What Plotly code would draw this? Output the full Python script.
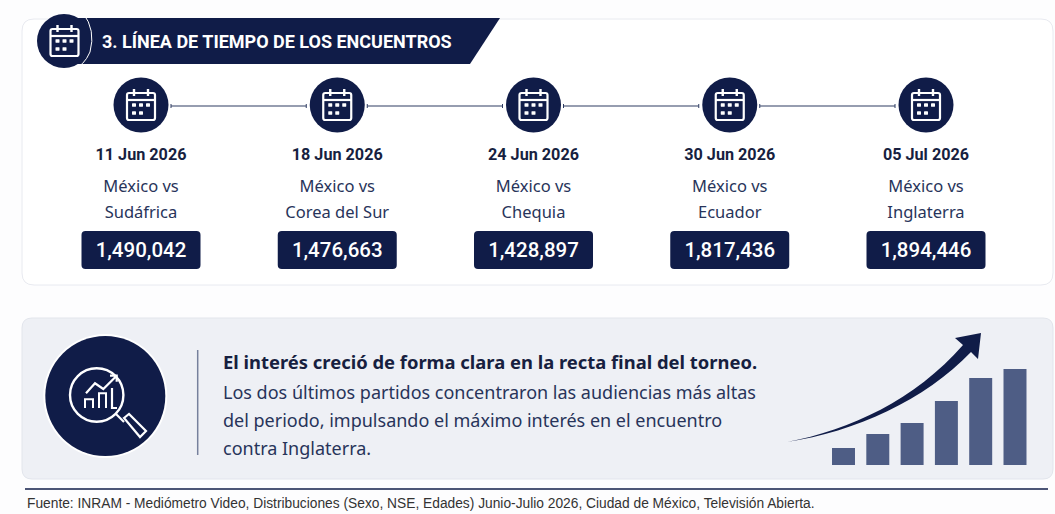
#!/usr/bin/env python
import plotly.graph_objects as go

NAVY = "#101c48"
TEXT_DARK = "#171f40"
TEXT_BLUE = "#28345a"

# timeline data
dates = ["11 Jun 2026", "18 Jun 2026", "24 Jun 2026", "30 Jun 2026", "05 Jul 2026"]
rivals_top = ["México vs"] * 5
rivals_bottom = ["Sudáfrica", "Corea del Sur", "Chequia", "Ecuador", "Inglaterra"]
audiences = [1490042, 1476663, 1428897, 1817436, 1894446]

# little decorative bars, heights
mini_labels = ["a", "b", "c", "d", "e", "f"]
mini_heights = [17, 31, 42, 64, 87, 96]

title_text = "3. LÍNEA DE TIEMPO DE LOS ENCUENTROS"
head_text = "El interés creció de forma clara en la recta final del torneo."
body_lines = [
    "Los dos últimos partidos concentraron las audiencias más altas",
    "del periodo, impulsando el máximo interés en el encuentro",
    "contra Inglaterra.",
]
source_text = ("Fuente: INRAM - Mediómetro Video, Distribuciones (Sexo, NSE, Edades) "
               "Junio-Julio 2026, Ciudad de México, Televisión Abierta.")

W, H = 1055, 514
FIRST_NODE, NODE_STEP = 141, 196.25
NODE_Y = 105


def rrect(x0, y0, x1, y1, r):
    return (f"M{x0+r},{y0} L{x1-r},{y0} Q{x1},{y0} {x1},{y0+r} L{x1},{y1-r} Q{x1},{y1} {x1-r},{y1} "
            f"L{x0+r},{y1} Q{x0},{y1} {x0},{y1-r} L{x0},{y0+r} Q{x0},{y0} {x0+r},{y0} Z")


def shape(path, fill="rgba(0,0,0,0)", line="rgba(0,0,0,0)", width=0):
    return dict(type="path", xref="x", yref="y", path=path, fillcolor=fill,
                line=dict(color=line, width=width), layer="below")


def circle(cx, cy, r, fill="rgba(0,0,0,0)", line="rgba(0,0,0,0)", width=0):
    return dict(type="circle", xref="x", yref="y", x0=cx-r, x1=cx+r, y0=cy-r, y1=cy+r,
                fillcolor=fill, line=dict(color=line, width=width), layer="below")


def calendar(cx, cy):
    out = [shape(rrect(cx-14, cy-12, cx+14, cy+15, 2), line="white", width=2.2),
           shape(f"M{cx-14},{cy-5} L{cx+14},{cy-5}", line="white", width=2.2),
           shape(f"M{cx-7},{cy-16} L{cx-7},{cy-9} M{cx+7},{cy-16} L{cx+7},{cy-9}", line="white", width=2.4)]
    for dx, dy in [(-7, 0), (0, 0), (7, 0), (-7, 8), (0, 8)]:
        out.append(shape(rrect(cx+dx-2, cy+dy-1.7, cx+dx+2, cy+dy+1.7, 0.4), fill="white"))
    return out


shapes = [
    shape(rrect(22, 19, 1053, 285, 12), fill="white", line="#e8eaf0", width=1),
    shape(rrect(22, 318, 1053, 479, 10), fill="#eef0f5", line="#e2e5ec", width=1),
    # header banner
    shape("M60,18 L500,18 L470,64 L60,64 Z", fill=NAVY),
    circle(64, 41, 27, fill=NAVY),
    shape("M83,13 Q96,30 90,52 Q84,66 72,70", line="white", width=1),
]
shapes += calendar(64.5, 41)

# nodes and connectors of the timeline
for i in range(len(dates)):
    cx = FIRST_NODE + i * NODE_STEP
    shapes.append(circle(cx, NODE_Y, 27.5, fill=NAVY))
    shapes += calendar(cx, NODE_Y)
    if i < len(dates) - 1:
        x0, x1 = cx + 30, cx + NODE_STEP - 31
        shapes.append(shape(f"M{x0},{NODE_Y+1} L{x1},{NODE_Y+1}", line="#2f3d63", width=1.2))
        shapes.append(shape(f"M{x0},{NODE_Y-1} L{x0},{NODE_Y+3} M{x1},{NODE_Y-1} L{x1},{NODE_Y+3}",
                            line="#2f3d63", width=1))
    shapes.append(shape(rrect(cx-59.5, 231, cx+59.5, 269, 4), fill=NAVY))

# magnifier
shapes += [
    circle(105.3, 396, 62, fill="white"),
    circle(105.3, 396, 60, fill=NAVY),
    circle(96.7, 395, 26.7, line="white", width=2.4),
    shape("M116,414 L124,422", line="white", width=2.2),
    shape("M124,418 L129,414 L146,431 L140,437 Z", line="white", width=2.2),
    shape("M86,393.3 L95,383.3 L103.3,389 L116.7,375.7 M110,375.7 L116.7,375.7 L116.7,381.7", line="white", width=2.2),
    shape("M85,408 L85,399.3 L93,399.3 L93,408 M99,408 L99,393.3 L106,393.3 L106,408", line="white", width=2),
    shape("M112,388 L112,408 L117,408", line="white", width=2.2),
    shape("M197.7,350 L197.7,455", line="#76809c", width=1.5),
    # rising arrow
    shape("M787,442 C850,430 915,400 963,345 L955,338 L981,333 L978,359 L971,352 "
          "C925,400 855,432 787,442 Z", fill=NAVY),
    # source rule
    shape("M25,489 L1048,489", line=NAVY, width=1.6),
]

fig = go.Figure()

# timeline labels on a category axis that spans the node positions
xdom0 = (FIRST_NODE - NODE_STEP / 2) / W
xdom1 = (FIRST_NODE + 4.5 * NODE_STEP) / W


def row(texts, y, size, color, family, weight="normal"):
    fig.add_trace(go.Scatter(
        x=dates, y=[y] * len(dates), xaxis="x2", yaxis="y", mode="text", text=texts,
        textposition="middle center", hoverinfo="skip", showlegend=False, cliponaxis=False,
        textfont=dict(size=size, color=color, family=family, weight=weight)))


row(dates, 156, 16.2, TEXT_DARK, "Roboto", "bold")
row(rivals_top, 188, 16.5, TEXT_BLUE, "Noto Sans")
row(rivals_bottom, 214, 16.5, TEXT_BLUE, "Noto Sans")
row([f"{a:,}" for a in audiences], 252, 20.5, "white", "Roboto", 500)

fig.add_trace(go.Bar(x=mini_labels, y=mini_heights, xaxis="x3", yaxis="y3",
                     marker=dict(color="#4e5d85", line=dict(width=0)),
                     hoverinfo="skip", showlegend=False))


def note(text, x, y, size, color, family):
    return dict(text=text, x=x, y=y, xref="x", yref="y", xanchor="left", yanchor="middle",
                showarrow=False, font=dict(size=size, color=color, family=family))


annotations = [
    note(f"<b>{title_text}</b>", 100, 41, 18, "white", "Roboto"),
    note(f"<b>{head_text}</b>", 221, 361, 18.4, TEXT_DARK, "Noto Sans"),
    note(source_text, 25, 503, 13.78, "#333333", "Liberation Sans"),
]
for line, y in zip(body_lines, [392, 420, 448]):
    annotations.append(note(line, 221, y, 18, TEXT_BLUE, "Noto Sans"))

hidden = dict(visible=False, showgrid=False, zeroline=False)
BAR_PITCH = 34.3
BAR_BOTTOM, BAR_TOP = 465, 369
fig.update_layout(
    width=W, height=H, margin=dict(l=0, r=0, t=0, b=0), autosize=False,
    paper_bgcolor="#fdfdfe", plot_bgcolor="rgba(0,0,0,0)",
    shapes=shapes, annotations=annotations, bargap=0.33,
    xaxis=dict(range=[0, W], domain=[0, 1], **hidden),
    yaxis=dict(range=[H, 0], domain=[0, 1], **hidden),
    xaxis2=dict(type="category", categoryorder="array", categoryarray=dates,
                range=[-0.5, 4.5], domain=[xdom0, xdom1], anchor="y", **hidden),
    xaxis3=dict(type="category", range=[-0.5, 5.5],
                domain=[(843.5 - BAR_PITCH / 2) / W, (843.5 + 5.5 * BAR_PITCH) / W], anchor="y3", **hidden),
    yaxis3=dict(range=[0, mini_heights[-1]], domain=[1 - BAR_BOTTOM / H, 1 - BAR_TOP / H], anchor="x3", **hidden),
)

# the page's default body margin would push the chart out of the window
fig.write_html("out.html", config=dict(displayModeBar=False),
               post_script="document.body.style.margin='0';document.documentElement.style.overflow='hidden';")
